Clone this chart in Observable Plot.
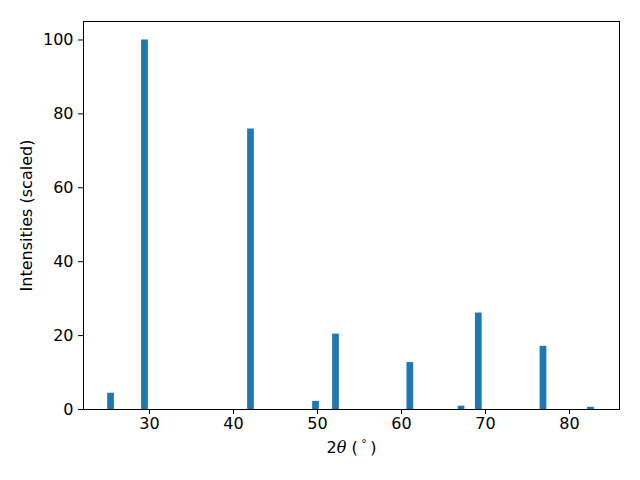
<!DOCTYPE html>
<html>
<head>
<meta charset="utf-8">
<script src="https://cdn.jsdelivr.net/npm/d3@7"></script>
<script src="https://cdn.jsdelivr.net/npm/@observablehq/plot@0.6"></script>
<style>
  html, body { margin: 0; padding: 0; background: #fff; }
  svg { font-family: "DejaVu Sans", sans-serif; }
</style>
</head>
<body>
<div id="chart"></div>
<script>
const twoTheta = [25.42, 29.46, 42.08, 49.82, 52.2, 61.05, 67.15, 69.2, 76.9, 82.55];
const intensities = [4.4, 100, 75.9, 2.2, 20.4, 12.7, 0.9, 26.1, 17.1, 0.6];
const xTicks = [30, 40, 50, 60, 70, 80];
const yTicks = [0, 20, 40, 60, 80, 100];
const xLabel = "2θ (°)";
const yLabel = "Intensities (scaled)";
const barWidth = 0.8;

const peaks = twoTheta.map((x, i) => ({x, y: intensities[i]}));

const plot = Plot.plot({
  width: 640,
  height: 480,
  marginLeft: 83,
  marginRight: 21,
  marginTop: 21,
  marginBottom: 71,
  style: {fontFamily: "DejaVu Sans, sans-serif", color: "black", background: "white"},
  x: {domain: [22.14, 85.95]},
  y: {domain: [0, 105]},
  marks: [
    Plot.rectY(peaks, {x1: d => d.x - barWidth / 2, x2: d => d.x + barWidth / 2, y1: 0, y2: "y", fill: "#1f77b4"}),
    Plot.axisX({ticks: xTicks, tickSize: 5, tickPadding: 3, fontSize: 16, label: null, stroke: "black"}),
    Plot.axisY({ticks: yTicks, tickSize: 5, tickPadding: 5, fontSize: 16, label: null, stroke: "black"}),
    Plot.frame({stroke: "black", strokeWidth: 1}),
    Plot.text([yLabel], {text: d => d, frameAnchor: "left", textAnchor: "middle", rotate: -90, dx: -57, fontSize: 16, fill: "black"}),
    Plot.text([xLabel], {text: d => d, frameAnchor: "bottom", dy: 43, fontSize: 16, fill: "black"})
  ]
});

// Style the x label like matplotlib mathtext: italic theta, superscript degree
d3.select(plot).selectAll("text").each(function() {
  if (this.textContent === xLabel) {
    const t = d3.select(this);
    t.text(null);
    t.append("tspan").text("2");
    t.append("tspan").attr("font-style", "italic").attr("font-family", "DejaVu Serif, serif").text("θ");
    t.append("tspan").text(" (");
    t.append("tspan").attr("font-size", 11).attr("dy", -6).text(" ° ");
    t.append("tspan").attr("dy", 6).text(")");
  }
});

document.getElementById("chart").appendChild(plot);
</script>
</body>
</html>
